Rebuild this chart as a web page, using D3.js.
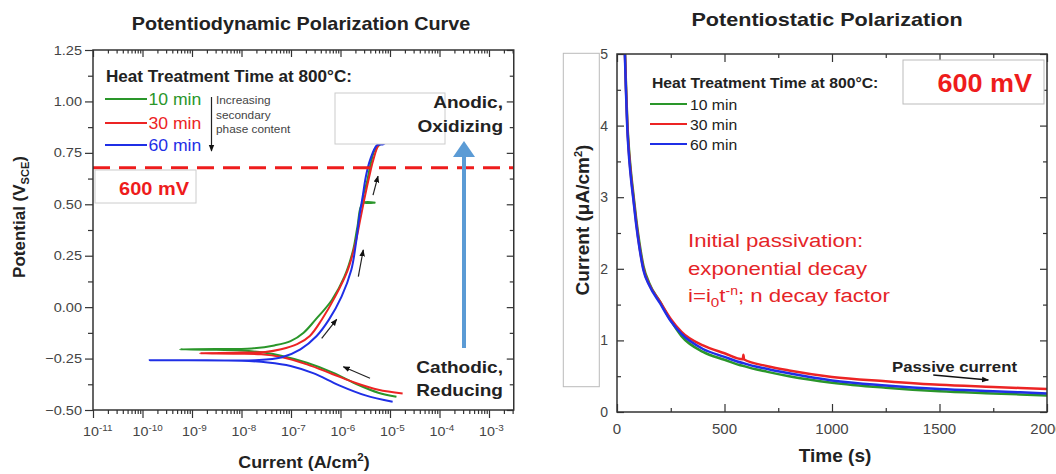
<!DOCTYPE html>
<html>
<head>
<meta charset="utf-8">
<script src="https://cdn.jsdelivr.net/npm/d3@7"></script>
<style>
  body { margin: 0; background: #fff; }
  svg { font-family: "Liberation Sans", Arial, sans-serif; display: block; }
</style>
</head>
<body>
<svg id="chart" width="1056" height="474"></svg>
<script>
// ---- data: potentiodynamic polarization (current A/cm2, potential V_SCE) ----
var pdGreen = [[1.35e-5,-0.436],[5.8e-6,-0.416],[2.2e-6,-0.376],[7e-7,-0.318],[2.1e-7,-0.27],[6.3e-8,-0.236],
  [3e-8,-0.222],[1e-8,-0.211],[2e-9,-0.207],[5.7e-10,-0.205],[3e-9,-0.204],[1.6e-8,-0.201],[4.6e-8,-0.186],
  [9.8e-8,-0.165],[1.8e-7,-0.124],[3.1e-7,-0.062],[6.7e-7,0.035],[1.2e-6,0.148],[1.8e-6,0.278],[2.2e-6,0.391],
  [2.8e-6,0.505],[4.9e-6,0.508],[2.9e-6,0.512],[3.5e-6,0.618],[4.1e-6,0.699],[4.9e-6,0.764],[6.4e-6,0.793],[1e-5,0.84]];
var pdRed = [[1.8e-5,-0.42],[5.8e-6,-0.402],[2.1e-6,-0.37],[7e-7,-0.326],[2.1e-7,-0.278],[6.3e-8,-0.242],
  [2.5e-8,-0.229],[8e-9,-0.226],[1.45e-9,-0.224],[1e-8,-0.221],[3e-8,-0.218],[6.3e-8,-0.205],[1.33e-7,-0.18],
  [2.4e-7,-0.14],[4.2e-7,-0.06],[7.8e-7,0.051],[1.4e-6,0.18],[2.0e-6,0.31],[2.5e-6,0.424],[3.1e-6,0.537],
  [3.8e-6,0.634],[4.6e-6,0.715],[5.9e-6,0.788],[1e-5,0.84]];
var pdBlue = [[1.13e-5,-0.46],[3.2e-6,-0.429],[9.4e-7,-0.38],[2.8e-7,-0.321],[9.8e-8,-0.286],[3.4e-8,-0.269],
  [1e-8,-0.26],[1.4e-10,-0.258],[2e-9,-0.258],[1.9e-8,-0.258],[6.3e-8,-0.245],[1.55e-7,-0.205],[3.3e-7,-0.14],
  [5.8e-7,-0.062],[1.05e-6,0.051],[1.65e-6,0.18],[2.05e-6,0.31],[2.4e-6,0.44],[2.8e-6,0.537],[3.25e-6,0.634],
  [3.95e-6,0.715],[5.5e-6,0.788],[7.4e-6,0.793],[1.1e-5,0.84]];

// ---- data: potentiostatic polarization (time s, current uA/cm2) ----
var psTime  = [30, 37, 42, 48, 55, 65, 76, 90, 105, 123, 150, 200, 250, 300, 400, 500, 585, 588, 591, 700, 800, 1000, 1250, 1500, 1750, 2000];
var psGreen = [5.6, 5.05, 4.55, 4.05, 3.7, 3.35, 3.05, 2.68, 2.35, 2.04, 1.8, 1.54, 1.28, 1.06, 0.84, 0.73, 0.645, 0.643, 0.64, 0.56, 0.5, 0.41, 0.34, 0.29, 0.26, 0.23];
var psRed   = [5.5, 5.0, 4.5, 4.0, 3.65, 3.3, 3.0, 2.63, 2.3, 2.0, 1.78, 1.54, 1.3, 1.12, 0.93, 0.82, 0.735, 0.8, 0.733, 0.64, 0.58, 0.49, 0.43, 0.38, 0.35, 0.32];
var psBlue  = [5.45, 4.95, 4.45, 3.95, 3.6, 3.26, 2.97, 2.6, 2.28, 1.98, 1.77, 1.52, 1.27, 1.09, 0.88, 0.77, 0.685, 0.683, 0.68, 0.6, 0.54, 0.44, 0.37, 0.32, 0.29, 0.26];

var seriesNames  = ["10 min", "30 min", "60 min"];
var seriesColors = ["#2a962a", "#ec2424", "#1f2fe6"];

var yTicksLeft  = [-0.5, -0.25, 0, 0.25, 0.5, 0.75, 1.0, 1.25];
var xExpLeft    = [-11, -10, -9, -8, -7, -6, -5, -4, -3];
var yTicksRight = [0, 1, 2, 3, 4, 5];
var xTicksRight = [0, 500, 1000, 1500, 2000];
var setpointV   = 0.678;

// annotation arrows (log10 current, potential)
var pdArrows = [[[-5.343, 0.545], [-5.242, 0.637]], [[-5.64, 0.148], [-5.54, 0.278]],
  [[-6.38, -0.152], [-6.077, -0.059]], [[-5.404, -0.346], [-5.943, -0.29]]];

var FONT_C = "#333";
var svg = d3.select("#chart");

var defs = svg.append("defs");
defs.append("marker").attr("id", "ah").attr("viewBox", "0 0 10 10")
  .attr("refX", 9).attr("refY", 5).attr("markerWidth", 7).attr("markerHeight", 7)
  .attr("orient", "auto").attr("markerUnits", "userSpaceOnUse")
  .append("path").attr("d", "M0,1 L10,5 L0,9 Z").attr("fill", "#111");

// text helper: horizontal stretch to mimic the picture
function txt(parent, x, y, s, o) {
  o = o || {};
  return parent.append("text")
    .attr("transform", "translate(" + x + "," + y + ") scale(" + (o.sx || 1) + ",1)")
    .attr("font-size", o.size || 13)
    .attr("font-weight", o.weight || "normal")
    .attr("fill", o.fill || FONT_C)
    .attr("text-anchor", o.anchor || "start")
    .text(s);
}

function tickAxis(g, axis) {
  g.call(axis);
  g.select(".domain").remove();
  g.selectAll("line").attr("stroke", "#333").attr("stroke-width", 1.2);
  g.selectAll("text").remove();
}

// ================= LEFT: potentiodynamic =================
var L = { x0: 93, x1: 513.75, y0: 50, y1: 410 };
var xL = d3.scaleLog().domain([1e-11, Math.pow(10, -2.5)]).range([L.x0, L.x1]);
var yL = d3.scaleLinear().domain([-0.5, 1.25]).range([L.y1, L.y0]);

var left = svg.append("g");
defs.append("clipPath").attr("id", "clipL").append("rect")
  .attr("x", L.x0).attr("y", L.y0).attr("width", L.x1 - L.x0).attr("height", L.y1 - L.y0);

var xMinorL = [];
xExpLeft.concat([-2]).forEach(function(e) {
  for (var k = 2; k <= 9; k++) {
    var v = k * Math.pow(10, e);
    if (v < xL.domain()[1]) xMinorL.push(v);
  }
});
var xMajorL = xExpLeft.map(function(e) { return Math.pow(10, e); });
var yMinorL = d3.range(-0.375, 1.25, 0.25);

// bottom (outward)
tickAxis(left.append("g").attr("transform", "translate(0," + L.y1 + ")"),
  d3.axisBottom(xL).tickValues(xMajorL).tickSize(8));
tickAxis(left.append("g").attr("transform", "translate(0," + L.y1 + ")"),
  d3.axisBottom(xL).tickValues(xMinorL).tickSize(4));
// top (inward)
tickAxis(left.append("g").attr("transform", "translate(0," + L.y0 + ")"),
  d3.axisBottom(xL).tickValues(xMajorL).tickSize(7));
tickAxis(left.append("g").attr("transform", "translate(0," + L.y0 + ")"),
  d3.axisBottom(xL).tickValues(xMinorL).tickSize(3.5));
// left (outward)
tickAxis(left.append("g").attr("transform", "translate(" + L.x0 + ",0)"),
  d3.axisLeft(yL).tickValues(yTicksLeft).tickSize(8));
tickAxis(left.append("g").attr("transform", "translate(" + L.x0 + ",0)"),
  d3.axisLeft(yL).tickValues(yMinorL).tickSize(5));
// right (inward)
tickAxis(left.append("g").attr("transform", "translate(" + L.x1 + ",0)"),
  d3.axisLeft(yL).tickValues(yTicksLeft).tickSize(7));
tickAxis(left.append("g").attr("transform", "translate(" + L.x1 + ",0)"),
  d3.axisLeft(yL).tickValues(yMinorL).tickSize(4));

// tick labels
yTicksLeft.forEach(function(v) {
  txt(left, 82, yL(v) + 4.5, d3.format(".2f")(v), { size: 13, sx: 1.12, anchor: "end", fill: "#444" });
});
xExpLeft.forEach(function(e) {
  var t = left.append("text")
    .attr("transform", "translate(" + (xL(Math.pow(10, e)) - 10) + ",436) scale(1.1,1)")
    .attr("font-size", 13).attr("fill", "#444");
  t.append("tspan").text("10");
  t.append("tspan").attr("dy", -5).attr("font-size", 9).text(String(e));
});

// curves
var lineL = d3.line().x(function(d) { return xL(d[0]); }).y(function(d) { return yL(d[1]); })
  .curve(d3.curveCatmullRom.alpha(0.5));
var curveG = left.append("g").attr("clip-path", "url(#clipL)");
[pdGreen, pdRed, pdBlue].forEach(function(s, i) {
  curveG.append("path").datum(s).attr("d", lineL)
    .attr("fill", "none").attr("stroke", seriesColors[i]).attr("stroke-width", 2);
});

// setpoint dashed line
left.append("line").attr("x1", L.x0).attr("x2", L.x1)
  .attr("y1", yL(setpointV)).attr("y2", yL(setpointV))
  .attr("stroke", "#ee1c1c").attr("stroke-width", 3).attr("stroke-dasharray", "17,9");

// frame
left.append("rect").attr("x", L.x0).attr("y", L.y0).attr("width", L.x1 - L.x0).attr("height", L.y1 - L.y0)
  .attr("fill", "none").attr("stroke", "#333").attr("stroke-width", 1.5);

// boxes
left.append("rect").attr("x", 95).attr("y", 170).attr("width", 101).attr("height", 33)
  .attr("fill", "#fff").attr("stroke", "#ccc");
txt(left, 154, 195, "600 mV", { size: 18, weight: "bold", sx: 1.11, anchor: "middle", fill: "#ee1c1c" });
left.append("rect").attr("x", 335).attr("y", 93).attr("width", 110).attr("height", 51)
  .attr("fill", "#fff").attr("stroke", "#ccc");
txt(left, 503, 108, "Anodic,", { size: 17, weight: "bold", sx: 1.12, anchor: "end", fill: "#222" });
txt(left, 503, 132, "Oxidizing", { size: 17, weight: "bold", sx: 1.12, anchor: "end", fill: "#222" });
txt(left, 503, 373, "Cathodic,", { size: 17, weight: "bold", sx: 1.12, anchor: "end", fill: "#222" });
txt(left, 503, 396, "Reducing", { size: 17, weight: "bold", sx: 1.12, anchor: "end", fill: "#222" });

// blue arrow
left.append("line").attr("x1", 464).attr("x2", 464).attr("y1", 348).attr("y2", 155)
  .attr("stroke", "#5b9bd5").attr("stroke-width", 4);
left.append("path").attr("d", "M453,157 L475,157 L464,141 Z").attr("fill", "#5b9bd5");

// black arrows
pdArrows.forEach(function(a) {
  left.append("line")
    .attr("x1", xL(Math.pow(10, a[0][0]))).attr("y1", yL(a[0][1]))
    .attr("x2", xL(Math.pow(10, a[1][0]))).attr("y2", yL(a[1][1]))
    .attr("stroke", "#222").attr("stroke-width", 1.2).attr("marker-end", "url(#ah)");
});

// legend
txt(left, 106, 82, "Heat Treatment Time at 800°C:", { size: 16, weight: "bold", sx: 1.07, fill: "#222" });
[99, 123, 145].forEach(function(y, i) {
  left.append("line").attr("x1", 105).attr("x2", 147).attr("y1", y).attr("y2", y)
    .attr("stroke", seriesColors[i]).attr("stroke-width", 2);
  txt(left, 148.5, y + 6, seriesNames[i], { size: 16, sx: 1.1, fill: seriesColors[i] });
});
left.append("line").attr("x1", 211.5).attr("x2", 211.5).attr("y1", 97).attr("y2", 151)
  .attr("stroke", "#222").attr("stroke-width", 1.2).attr("marker-end", "url(#ah)");
["Increasing", "secondary", "phase content"].forEach(function(s, i) {
  txt(left, 216, 104 + i * 14.5, s, { size: 11.5, sx: 1.03, fill: "#444" });
});

// titles / axis labels
txt(left, 301, 30, "Potentiodynamic Polarization Curve", { size: 18, weight: "bold", sx: 1.1, anchor: "middle", fill: "#222" });
var xl = left.append("text").attr("transform", "translate(304,468) scale(1.05,1)")
  .attr("font-size", 17).attr("font-weight", "bold").attr("fill", "#222").attr("text-anchor", "middle");
xl.append("tspan").text("Current (A/cm");
xl.append("tspan").attr("dy", -7).attr("font-size", 11).text("2");
xl.append("tspan").attr("dy", 7).text(")");
var yl = left.append("text").attr("transform", "translate(25,217) rotate(-90)")
  .attr("font-size", 17).attr("font-weight", "bold").attr("fill", "#222").attr("text-anchor", "middle");
yl.append("tspan").text("Potential (V");
yl.append("tspan").attr("dy", 4).attr("font-size", 11).text("SCE");
yl.append("tspan").attr("dy", -4).text(")");

// ================= RIGHT: potentiostatic =================
var R = { x0: 617, x1: 1047, y0: 54, y1: 412 };
var xR = d3.scaleLinear().domain([0, 2000]).range([R.x0, R.x1]);
var yR = d3.scaleLinear().domain([0, 5]).range([R.y1, R.y0]);
var right = svg.append("g");
defs.append("clipPath").attr("id", "clipR").append("rect")
  .attr("x", R.x0).attr("y", R.y0).attr("width", R.x1 - R.x0).attr("height", R.y1 - R.y0);

var xMinorR = [250, 750, 1250, 1750];
var yMinorR = [0.5, 1.5, 2.5, 3.5, 4.5];
tickAxis(right.append("g").attr("transform", "translate(0," + R.y1 + ")"), d3.axisTop(xR).tickValues(xTicksRight).tickSize(8));
tickAxis(right.append("g").attr("transform", "translate(0," + R.y1 + ")"), d3.axisTop(xR).tickValues(xMinorR).tickSize(4));
tickAxis(right.append("g").attr("transform", "translate(0," + R.y0 + ")"), d3.axisBottom(xR).tickValues(xTicksRight).tickSize(8));
tickAxis(right.append("g").attr("transform", "translate(0," + R.y0 + ")"), d3.axisBottom(xR).tickValues(xMinorR).tickSize(4));
tickAxis(right.append("g").attr("transform", "translate(" + R.x0 + ",0)"), d3.axisRight(yR).tickValues(yTicksRight).tickSize(7));
tickAxis(right.append("g").attr("transform", "translate(" + R.x0 + ",0)"), d3.axisRight(yR).tickValues(yMinorR).tickSize(4));
tickAxis(right.append("g").attr("transform", "translate(" + R.x1 + ",0)"), d3.axisLeft(yR).tickValues(yTicksRight).tickSize(7));
tickAxis(right.append("g").attr("transform", "translate(" + R.x1 + ",0)"), d3.axisLeft(yR).tickValues(yMinorR).tickSize(4));

// y label box (under labels)
right.append("rect").attr("x", 563.3).attr("y", 53.3).attr("width", 36).attr("height", 333.4)
  .attr("fill", "#fff").attr("stroke", "#bbb");

yTicksRight.forEach(function(v) {
  txt(right, 608, yR(v) + 5, String(v), { size: 14, anchor: "end", fill: "#444" });
});
xTicksRight.forEach(function(v) {
  txt(right, xR(v), 434, String(v), { size: 15, anchor: "middle", fill: "#444" });
});

var lineR = d3.line().x(function(d) { return xR(d[0]); }).y(function(d) { return yR(d[1]); })
  .curve(d3.curveMonotoneX);
var rg = right.append("g").attr("clip-path", "url(#clipR)");
[psGreen, psRed, psBlue].forEach(function(s, i) {
  rg.append("path").datum(psTime.map(function(t, j) { return [t, s[j]]; })).attr("d", lineR)
    .attr("fill", "none").attr("stroke", seriesColors[i]).attr("stroke-width", 2.5);
});

right.append("rect").attr("x", R.x0).attr("y", R.y0).attr("width", R.x1 - R.x0).attr("height", R.y1 - R.y0)
  .attr("fill", "none").attr("stroke", "#333").attr("stroke-width", 1.5);

// legend
txt(right, 652, 88, "Heat Treatment Time at 800°C:", { size: 15, weight: "bold", sx: 1.05, fill: "#222" });
[104, 124, 144].forEach(function(y, i) {
  right.append("line").attr("x1", 650).attr("x2", 687).attr("y1", y).attr("y2", y)
    .attr("stroke", seriesColors[i]).attr("stroke-width", 2);
  txt(right, 690, y + 5.5, seriesNames[i], { size: 15, sx: 1.05, fill: "#222" });
});

// 600 mV box
right.append("rect").attr("x", 903).attr("y", 60).attr("width", 141).attr("height", 44)
  .attr("fill", "#fff").attr("stroke", "#bbb");
txt(right, 1032, 92, "600 mV", { size: 25, weight: "bold", sx: 1.08, anchor: "end", fill: "#ee1c1c" });

// red annotation
var RED_T = "#e52528";
txt(right, 688, 247, "Initial passivation:", { size: 19, sx: 1.17, fill: RED_T });
txt(right, 688, 275, "exponential decay", { size: 19, sx: 1.17, fill: RED_T });
var eq = right.append("text").attr("transform", "translate(688,302) scale(1.17,1)")
  .attr("font-size", 19).attr("fill", RED_T);
eq.append("tspan").text("i=i");
eq.append("tspan").attr("dy", 5).attr("font-size", 13).text("0");
eq.append("tspan").attr("dy", -5).text("t");
eq.append("tspan").attr("dy", -7).attr("font-size", 12).text("-n");
eq.append("tspan").attr("dy", 7).text("; n decay factor");

// passive current
txt(right, 892, 372, "Passive current", { size: 15, weight: "bold", sx: 1.12, fill: "#222" });
right.append("line").attr("x1", xR(1471)).attr("y1", yR(0.517)).attr("x2", xR(1727)).attr("y2", yR(0.447))
  .attr("stroke", "#111").attr("stroke-width", 1.3).attr("marker-end", "url(#ah)");

// titles
txt(right, 827, 26, "Potentiostatic  Polarization", { size: 18, weight: "bold", sx: 1.2, anchor: "middle", fill: "#222" });
txt(right, 835, 462, "Time (s)", { size: 18, weight: "bold", sx: 1.06, anchor: "middle", fill: "#222" });
var yr = right.append("text").attr("transform", "translate(589,220) rotate(-90)")
  .attr("font-size", 19).attr("font-weight", "bold").attr("fill", "#222").attr("text-anchor", "middle");
yr.append("tspan").text("Current (μA/cm");
yr.append("tspan").attr("dy", -7).attr("font-size", 11).text("2");
yr.append("tspan").attr("dy", 7).text(")");
</script>
</body>
</html>
